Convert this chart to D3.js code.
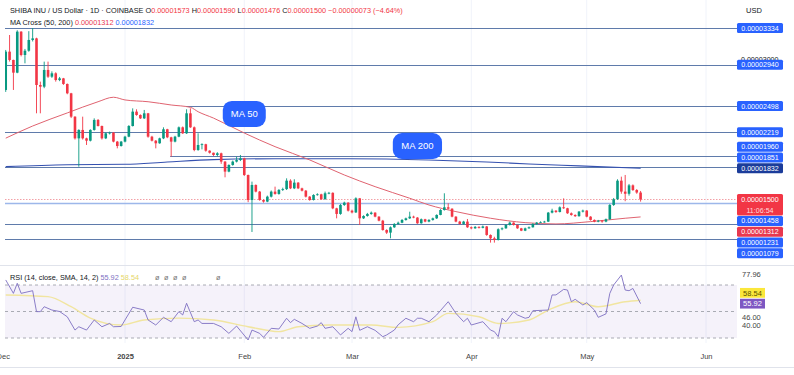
<!DOCTYPE html>
<html>
<head>
<meta charset="utf-8">
<script src="https://cdn.jsdelivr.net/npm/d3@7"></script>
<style>
  body { margin: 0; background: #fff; }
  svg { display: block; font-family: "Liberation Sans", Arial, sans-serif; }
</style>
</head>
<body>
<div id="chart"></div>
<script>
// prices are in units of 0.00000001 USD
const UNIT = 1e-8;
const startDay = Date.UTC(2024, 11, 1);
const firstOpen = 2671;

const closes = [
  3081, 2992, 2856, 3295, 3045, 3091, 3206, 3223, 2724, 2706,
  2885, 2813, 2849, 2777, 2795, 2735, 2635, 2385, 2153, 2243,
  2153, 2128, 2243, 2350, 2285, 2153, 2207, 2214, 2118, 2071,
  2118, 2171, 2285, 2439, 2403, 2367, 2421, 2171, 2128, 2100,
  2153, 2250, 2164, 2118, 2171, 2271, 2207, 2421, 2271, 2028,
  2082, 2090, 2021, 1999, 1975, 1993, 1904, 1797, 1868, 1904,
  1921, 1939, 1761, 1493, 1654, 1583, 1493, 1476, 1529, 1583,
  1558, 1601, 1610, 1700, 1618, 1679, 1618, 1593, 1529, 1493,
  1547, 1554, 1501, 1565, 1570, 1404, 1344, 1440, 1465, 1379,
  1360, 1511, 1297, 1322, 1344, 1358, 1315, 1272, 1172, 1144,
  1201, 1237, 1250, 1279, 1297, 1315, 1305, 1244, 1287, 1262,
  1280, 1297, 1333, 1386, 1415, 1400, 1315, 1262, 1237, 1262,
  1201, 1190, 1205, 1195, 1210, 1119, 1083, 1065, 1180, 1190,
  1226, 1251, 1226, 1190, 1165, 1190, 1201, 1237, 1251, 1255,
  1262, 1358, 1379, 1365, 1415, 1405, 1351, 1333, 1320, 1369,
  1380, 1315, 1280, 1262, 1272, 1262, 1287, 1440, 1501, 1700,
  1583, 1560, 1650, 1600, 1573, 1500
];
const highs = [
  3099, 3259, 2995, 3310, 3300, 3110, 3300, 3334, 3230, 2760,
  2974, 2974, 2870, 2860, 2810, 2800, 2740, 2640, 2390, 2250,
  2385, 2160, 2250, 2367, 2360, 2290, 2215, 2225, 2220, 2125,
  2125, 2180, 2295, 2474, 2464, 2410, 2457, 2425, 2180, 2135,
  2160, 2271, 2255, 2170, 2180, 2280, 2280, 2464, 2474, 2280,
  2207, 2100, 2095, 2025, 2000, 2005, 2000, 1910, 1875, 1915,
  1957, 1975, 1945, 1765, 1690, 1660, 1590, 1500, 1540, 1595,
  1636, 1610, 1625, 1725, 1715, 1715, 1685, 1625, 1600, 1535,
  1555, 1565, 1560, 1583, 1580, 1575, 1410, 1450, 1475, 1470,
  1390, 1522, 1515, 1330, 1355, 1370, 1362, 1320, 1280, 1180,
  1210, 1245, 1262, 1290, 1305, 1368, 1325, 1310, 1295, 1292,
  1288, 1305, 1340, 1395, 1565, 1458, 1405, 1320, 1270, 1270,
  1290, 1210, 1215, 1212, 1220, 1215, 1125, 1100, 1190, 1200,
  1235, 1262, 1255, 1230, 1195, 1198, 1210, 1245, 1258, 1265,
  1270, 1365, 1400, 1385, 1425, 1511, 1410, 1360, 1340, 1375,
  1390, 1385, 1320, 1285, 1280, 1278, 1295, 1450, 1515, 1715,
  1743, 1761, 1665, 1660, 1610, 1590
];
const lows = [
  2650, 2975, 2671, 2850, 3030, 2956, 3080, 3190, 2421, 2421,
  2690, 2800, 2800, 2760, 2765, 2725, 2625, 2370, 2140, 1850,
  2140, 2082, 2120, 2235, 2280, 2140, 2145, 2195, 2110, 2046,
  2065, 2110, 2165, 2280, 2395, 2360, 2360, 2160, 2120, 2046,
  2095, 2145, 2155, 1957, 2110, 2165, 2200, 2200, 2265, 2015,
  2020, 2035, 2010, 1990, 1965, 1960, 1880, 1736, 1790, 1860,
  1895, 1910, 1750, 1470, 1151, 1575, 1485, 1465, 1470, 1520,
  1550, 1550, 1590, 1600, 1610, 1610, 1610, 1585, 1520, 1485,
  1488, 1540, 1495, 1498, 1555, 1395, 1297, 1335, 1430, 1370,
  1350, 1355, 1226, 1290, 1315, 1335, 1308, 1265, 1165, 1130,
  1083, 1195, 1230, 1245, 1272, 1290, 1298, 1238, 1240, 1255,
  1255, 1272, 1290, 1330, 1380, 1392, 1308, 1255, 1230, 1230,
  1195, 1180, 1185, 1188, 1190, 1110, 1037, 1037, 1060, 1170,
  1185, 1220, 1220, 1185, 1160, 1160, 1185, 1198, 1230, 1245,
  1250, 1258, 1350, 1355, 1360, 1398, 1345, 1325, 1312, 1315,
  1360, 1308, 1272, 1255, 1255, 1250, 1255, 1282, 1430, 1495,
  1560, 1480, 1540, 1590, 1560, 1476
];

// moving averages (day offset from Dec 1)
const ma50Days   = [0, 7, 16, 24, 28, 31, 37, 43, 48, 50, 54, 62, 70, 79, 88, 96, 105, 110, 117, 126, 135, 143, 152, 161, 165];
const ma50Values = [2155, 2285, 2425, 2545, 2593, 2564, 2545, 2510, 2485, 2438, 2370, 2210, 2064, 1922, 1761, 1636, 1512, 1440, 1369, 1298, 1251, 1237, 1262, 1298, 1312];
const ma200Days   = [0, 16, 31, 42, 54, 70, 89, 110, 125, 136, 149, 165];
const ma200Values = [1850, 1870, 1875, 1900, 1925, 1935, 1935, 1922, 1900, 1879, 1858, 1832];

// horizontal levels
const levelPrices    = [3334, 2940, 2498, 2219, 1960, 1851, 1458, 1231, 1079];
const levelStartDays = [0, 0, 47, 0, 43, 0, 0, 0, 0];

const badgeTexts  = ["MA 50", "MA 200"];
const badgeDays   = [62, 107];
const badgePrices = [2414, 2071];

// only the 0.00003000 grid label peeks out from behind the tags
const priceTicks = [3000];

// RSI
const rsiDays = [0, 2, 3, 4, 7, 8, 9, 10, 12, 14, 16, 18, 19, 21, 23, 25, 27, 28, 30, 31,
  33, 36, 37, 39, 41, 43, 45, 46, 47, 49, 50, 51, 54, 56, 58, 60, 63, 64, 66, 67,
  69, 71, 73, 74, 75, 77, 79, 81, 82, 83, 85, 87, 89, 90, 91, 92, 94, 96, 98, 99,
  101, 102, 104, 106, 107, 108, 110, 112, 115, 117, 119, 120, 121, 124, 126, 127, 128, 129, 130, 132,
  133, 135, 136, 137, 141, 142, 143, 145, 146, 147, 148, 150, 151, 153, 154, 156, 157, 158, 160, 161,
  162, 163, 165];
const rsiValues = [73.8, 63.7, 71.3, 63.7, 65.7, 49.9, 49.9, 53.6, 51.1, 50, 46, 36, 38.5, 36, 43.6, 38.5, 41, 38.5, 38.7, 43.6,
  53.2, 51.1, 43.6, 39.8, 45.6, 42.3, 49.9, 47.4, 56.2, 42.3, 43.6, 41, 41, 38.5, 33.5, 39, 28.5, 36, 33.5, 30.5,
  37.3, 36.8, 44.9, 41.6, 44.1, 41, 37.3, 39, 41.6, 37.3, 38.5, 32.3, 37.3, 34.8, 46, 35.8, 38.5, 35.8, 31, 32.3,
  36, 40, 44.9, 42.3, 44.9, 44.9, 42.3, 47.4, 57.4, 48.6, 42.3, 44.9, 39.8, 42.3, 36, 34.8, 31, 44.9, 42.3, 49.9,
  47.4, 44.9, 45.6, 50.6, 51.1, 62.5, 62.5, 66.7, 66.2, 57.4, 59.2, 54.9, 56.7, 51.1, 45.6, 48.2, 63.7, 70, 77.5, 66.2,
  65.7, 67.4, 55.92];
const rsiSmaDays   = [0, 11, 17, 22, 30, 36, 45, 54, 63, 71, 76, 84, 95, 102, 111, 115, 123, 128, 136, 141, 148, 154, 161, 165];
const rsiSmaValues = [62.5, 61.2, 53.6, 45, 39.8, 43.6, 45, 43.6, 38.5, 34.8, 38.5, 39.8, 39.8, 38, 42.3, 48.6, 46, 41, 43.6, 51.1, 57.4, 53.6, 57.4, 58.54];
const rsiAxisTicks = [77.96, 46, 40];

const monthTicks = [Date.UTC(2024, 11, 1), Date.UTC(2025, 0, 1), Date.UTC(2025, 1, 1), Date.UTC(2025, 2, 1),
  Date.UTC(2025, 3, 1), Date.UTC(2025, 4, 1), Date.UTC(2025, 5, 1)];

const W = 794, H = 375;
const dayDate = d => d3.utcDay.offset(new Date(startDay), d);

const x = d3.scaleUtc().domain([new Date(Date.UTC(2025, 0, 1)), new Date(Date.UTC(2025, 5, 1))]).range([125, 706]);
const y = d3.scaleLinear().domain([1079, 3334]).range([238.7, 28]);
const ry = d3.scaleLinear().domain([30, 70]).range([338, 285]);

const fmt = d3.format(".8f");
const up = "#089981", down = "#f23645";
const blue = "#2962ff";

const candles = closes.map((c, i) => ({
  date: dayDate(i),
  open: i === 0 ? firstOpen : closes[i - 1],
  close: c, high: highs[i], low: lows[i]
}));

const svg = d3.select("#chart").append("svg").attr("width", W).attr("height", H);

// month grid
svg.append("g").selectAll("line").data(monthTicks.slice(1)).join("line")
  .attr("x1", d => x(d)).attr("x2", d => x(d))
  .attr("y1", 0).attr("y2", 343)
  .attr("stroke", "#f0f3fa");

// panel separators
svg.append("line").attr("x1", 0).attr("x2", W).attr("y1", 265.5).attr("y2", 265.5).attr("stroke", "#e0e3eb");
svg.append("line").attr("x1", 0).attr("x2", W).attr("y1", 367.5).attr("y2", 367.5).attr("stroke", "#e0e3eb");

const plot = svg.append("g");
svg.append("clipPath").attr("id", "pclip").append("rect").attr("x", 5).attr("y", 0).attr("width", 732).attr("height", 264);
plot.attr("clip-path", "url(#pclip)");

// levels
plot.selectAll(".level").data(levelPrices).join("line")
  .attr("class", "level")
  .attr("x1", (d, i) => x(dayDate(levelStartDays[i])) - 1)
  .attr("x2", 737)
  .attr("y1", d => Math.round(y(d)) + 0.5).attr("y2", d => Math.round(y(d)) + 0.5)
  .attr("stroke", d => d === 1458 ? "#9db7ea" : "#5f7bab")
  .attr("stroke-width", d => d === 1458 ? 1.6 : 1);

// current price line
const last = candles[candles.length - 1];
plot.append("line")
  .attr("x1", 5).attr("x2", 737)
  .attr("y1", Math.round(y(last.close)) + 0.5).attr("y2", Math.round(y(last.close)) + 0.5)
  .attr("stroke", "#f2a0a6").attr("stroke-dasharray", "1.5 1.5");

// moving averages
const maLine = d3.line().x(d => x(dayDate(d[0]))).y(d => y(d[1])).curve(d3.curveMonotoneX);
plot.append("path").datum(d3.zip(ma200Days, ma200Values)).attr("d", maLine)
  .attr("fill", "none").attr("stroke", "#3551b0").attr("stroke-width", 1.1);
plot.append("path").datum(d3.zip(ma50Days, ma50Values)).attr("d", maLine)
  .attr("fill", "none").attr("stroke", "#e06370").attr("stroke-width", 1);

// candles
const cg = plot.append("g");
cg.selectAll("line").data(candles).join("line")
  .attr("x1", d => x(d.date)).attr("x2", d => x(d.date))
  .attr("y1", d => y(d.high)).attr("y2", d => y(d.low))
  .attr("stroke", d => d.close >= d.open ? up : down).attr("stroke-width", 0.9);
cg.selectAll("rect").data(candles).join("rect")
  .attr("x", d => x(d.date) - 1.3).attr("width", 2.6)
  .attr("y", d => y(Math.max(d.open, d.close)))
  .attr("height", d => Math.max(0.8, Math.abs(y(d.open) - y(d.close))))
  .attr("fill", d => d.close >= d.open ? up : down);

// badges
badgeTexts.forEach((t, i) => {
  const cx = x(dayDate(badgeDays[i])), cy = y(badgePrices[i]);
  const w = t.length * 6.2 + 12, h = 26;
  svg.append("rect").attr("x", cx - w / 2).attr("y", cy - h / 2).attr("width", w).attr("height", h)
    .attr("rx", 9).attr("fill", blue);
  svg.append("text").attr("x", cx).attr("y", cy + 3.4).attr("text-anchor", "middle")
    .attr("fill", "#fff").attr("font-size", 9.5).text(t);
});

// price axis tick
const yAxis = svg.append("g").attr("transform", "translate(737,0)")
  .call(d3.axisRight(y).tickValues(priceTicks).tickSize(0).tickPadding(4)
    .tickFormat(d => fmt(d * UNIT)));
yAxis.select(".domain").remove();
yAxis.selectAll("text").attr("font-size", 7.1).attr("fill", "#131722").attr("font-family", null);

// price labels with simple stacking around the current price block
const LH = 10.8;
const curY = y(last.close);
const blockTop = curY - LH / 2, blockBot = blockTop + 2 * LH;
const tags = levelPrices.map(v => ({ v, bg: blue }))
  .concat([{ v: ma200Values[ma200Values.length - 1], bg: "#1b3c9a" },
           { v: ma50Values[ma50Values.length - 1], bg: "#e8384f" }]);
let limit = blockTop;
tags.filter(d => y(d.v) < curY).sort((a, b) => y(b.v) - y(a.v)).forEach(d => {
  d.yc = Math.min(y(d.v), limit - LH / 2); limit = d.yc - LH / 2;
});
limit = blockBot;
tags.filter(d => y(d.v) >= curY).sort((a, b) => y(a.v) - y(b.v)).forEach(d => {
  d.yc = Math.max(y(d.v), limit + LH / 2); limit = d.yc + LH / 2;
});
const tg = svg.append("g");
tags.forEach(d => {
  tg.append("rect").attr("x", 737).attr("y", d.yc - LH / 2 + 0.4).attr("width", 46).attr("height", LH - 0.8)
    .attr("rx", 1.5).attr("fill", d.bg);
  tg.append("text").attr("x", 760).attr("y", d.yc + 2.5).attr("text-anchor", "middle")
    .attr("fill", "#fff").attr("font-size", 7.1).text(fmt(d.v * UNIT));
});
tg.append("rect").attr("x", 737).attr("y", blockTop).attr("width", 46).attr("height", 2 * LH)
  .attr("rx", 1.5).attr("fill", down);
tg.append("text").attr("x", 760).attr("y", curY + 2.5).attr("text-anchor", "middle")
  .attr("fill", "#fff").attr("font-size", 7.1).text(fmt(last.close * UNIT));
tg.append("text").attr("x", 760).attr("y", curY + LH + 2.5).attr("text-anchor", "middle")
  .attr("fill", "#ffd9dc").attr("font-size", 7.1).text("11:06:54");

svg.append("text").attr("x", 754).attr("y", 13).attr("text-anchor", "middle")
  .attr("font-size", 7.5).attr("fill", "#131722").text("USD");

// header
const change = last.close - last.open;
const h1 = svg.append("text").attr("x", 10).attr("y", 12.5).attr("font-size", 7.3).attr("fill", "#131722");
h1.append("tspan").text("SHIBA INU / US Dollar · 1D · COINBASE  ");
[["O", last.open], ["H", last.high], ["L", last.low], ["C", last.close]].forEach(([k, v]) => {
  h1.append("tspan").text(" " + k);
  h1.append("tspan").attr("fill", down).text(fmt(v * UNIT));
});
h1.append("tspan").attr("fill", down)
  .text(" " + fmt(change * UNIT).replace("-", "−") + " (" + d3.format(".2f")(change / last.open * 100).replace("-", "−") + "%)");
const h2 = svg.append("text").attr("x", 10).attr("y", 24.5).attr("font-size", 7.3).attr("fill", "#131722");
h2.append("tspan").text("MA Cross (50, 200)  ");
h2.append("tspan").attr("fill", "#e8384f").text(fmt(ma50Values[ma50Values.length - 1] * UNIT) + "  ");
h2.append("tspan").attr("fill", blue).text(fmt(ma200Values[ma200Values.length - 1] * UNIT));

// RSI panel
const rg = svg.append("g");
rg.append("rect").attr("x", 5).attr("y", ry(70)).attr("width", 732).attr("height", ry(30) - ry(70))
  .attr("fill", "rgba(126,87,194,0.08)");
rg.selectAll(".band").data([70, 50, 30]).join("line").attr("class", "band")
  .attr("x1", 5).attr("x2", 737).attr("y1", d => ry(d)).attr("y2", d => ry(d))
  .attr("stroke", "#9598a1").attr("stroke-dasharray", "3 3").attr("stroke-width", 0.8);
const rLine = d3.line().x(d => x(dayDate(d[0]))).y(d => ry(d[1]));
rg.append("path").datum(d3.zip(rsiSmaDays, rsiSmaValues)).attr("d", rLine.curve(d3.curveMonotoneX))
  .attr("fill", "none").attr("stroke", "#f1e5a0").attr("stroke-width", 1.4);
rg.append("path").datum(d3.zip(rsiDays, rsiValues)).attr("d", d3.line().x(d => x(dayDate(d[0]))).y(d => ry(d[1])))
  .attr("fill", "none").attr("stroke", "#7e6fc2").attr("stroke-width", 0.9);

const rh = svg.append("text").attr("x", 10).attr("y", 279.5).attr("font-size", 7.3).attr("fill", "#131722");
rh.append("tspan").text("RSI (14, close, SMA, 14, 2)  ");
rh.append("tspan").attr("fill", "#7e6fc2").text(rsiValues[rsiValues.length - 1].toFixed(2) + "  ");
rh.append("tspan").attr("fill", "#e6d76a").text(rsiSmaValues[rsiSmaValues.length - 1].toFixed(2));
[155, 164, 173, 182, 216].forEach(px => {
  svg.append("text").attr("x", px).attr("y", 279.5).attr("font-size", 7.3).attr("fill", "#777").text("ø");
});

const rAxis = svg.append("g").attr("transform", "translate(737,0)")
  .call(d3.axisRight(ry).tickValues(rsiAxisTicks).tickSize(0).tickPadding(5).tickFormat(d3.format(".2f")));
rAxis.select(".domain").remove();
rAxis.selectAll("text").attr("font-size", 7.5).attr("fill", "#444").attr("font-family", null);

const rsiTags = [
  { v: rsiValues[rsiValues.length - 1], bg: "#7e57c2", fg: "#fff" },
  { v: rsiSmaValues[rsiSmaValues.length - 1], bg: "#fbe73b", fg: "#5b5100" }
];
rsiTags[0].yc = ry(rsiTags[0].v);
rsiTags[1].yc = Math.min(ry(rsiTags[1].v), rsiTags[0].yc - LH);
rsiTags.forEach(d => {
  svg.append("rect").attr("x", 740).attr("y", d.yc - LH / 2 + 0.5).attr("width", 25).attr("height", LH - 1)
    .attr("fill", d.bg);
  svg.append("text").attr("x", 752.5).attr("y", d.yc + 2.7).attr("text-anchor", "middle")
    .attr("font-size", 7.5).attr("fill", d.fg).text(d.v.toFixed(2));
});

// time axis
const xAxis = svg.append("g").attr("transform", "translate(0,351)")
  .call(d3.axisBottom(x).tickValues(monthTicks.map(d => new Date(d))).tickSize(0).tickPadding(3)
    .tickFormat(d => d.getUTCMonth() === 0 ? d3.utcFormat("%Y")(d) : d3.utcFormat("%b")(d)));
xAxis.select(".domain").remove();
xAxis.selectAll("text").attr("font-size", 7.5).attr("fill", "#444").attr("font-family", null)
  .attr("font-weight", d => new Date(d).getUTCMonth() === 0 ? "bold" : null);
xAxis.selectAll("text").filter(d => new Date(d).getUTCMonth() === 11).attr("dx", -3);
</script>
</body>
</html>
